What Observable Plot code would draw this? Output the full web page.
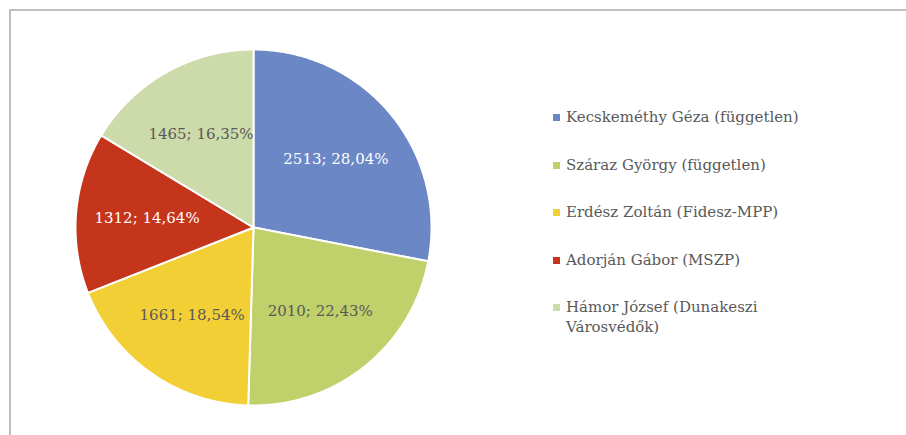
<!DOCTYPE html>
<html>
<head>
<meta charset="utf-8">
<script src="https://cdn.jsdelivr.net/npm/d3@7"></script>
<script src="https://cdn.jsdelivr.net/npm/@observablehq/plot@0.6"></script>
<style>
  html, body { margin: 0; padding: 0; background: #fff; }
  #wrap { position: relative; width: 906px; height: 435px; overflow: hidden; font-family: "DejaVu Serif", serif; }
  #border { position: absolute; left: 9px; top: 9px; width: 910px; height: 460px; border: 2px solid #bfbfbf; box-sizing: border-box; }
  #chart { position: absolute; left: 0; top: 0; }
  #legend { position: absolute; left: 553px; top: 107px; display: flex; flex-direction: column; gap: 27.5px; }
  .item { display: flex; align-items: flex-start; font-size: 15px; line-height: 20px; color: #595959; }
  .sw { width: 7px; height: 7px; margin-top: 7px; margin-right: 6px; flex: none; }
  .lbl { max-width: 245px; }
</style>
</head>
<body>
<div id="wrap">
  <div id="chart"></div>
  <div id="border"></div>
  <div id="legend"></div>
</div>
<script>
const candidates = [
  "Kecskeméthy Géza (független)",
  "Száraz György (független)",
  "Erdész Zoltán (Fidesz-MPP)",
  "Adorján Gábor (MSZP)",
  "Hámor József (Dunakeszi Városvédők)"
];
const votes = [2513, 2010, 1661, 1312, 1465];
const colors = ["#6c87c6", "#c0d06a", "#f2d035", "#c5351c", "#cddaa9"];

const total = d3.sum(votes);
const rows = candidates.map((name, i) => ({name, value: votes[i], color: colors[i]}));
const arcs = d3.pie().sort(null).value(d => d.value).startAngle(0).endAngle(2 * Math.PI)(rows);

// polygon outlines for slices in unit coordinates
const slicePts = [];
arcs.forEach(a => {
  const n = Math.max(2, Math.ceil((a.endAngle - a.startAngle) / 0.01));
  slicePts.push({name: a.data.name, x: 0, y: 0});
  for (let k = 0; k <= n; k++) {
    const t = a.startAngle + (a.endAngle - a.startAngle) * k / n;
    slicePts.push({name: a.data.name, x: Math.sin(t), y: Math.cos(t)});
  }
  slicePts.push({name: a.data.name, x: 0, y: 0});
});

const fmtPct = v => (v * 100).toFixed(2).replace(".", ",") + "%";
const labels = arcs.map(a => {
  const m = (a.startAngle + a.endAngle) / 2;
  const light = d3.lab(a.data.color).l;
  return {
    x: 0.6 * Math.sin(m),
    y: 0.6 * Math.cos(m),
    text: a.data.value + "; " + fmtPct(a.data.value / total),
    fill: light < 60 ? "#ffffff" : "#595959"
  };
});

const plot = Plot.plot({
  width: 906,
  height: 435,
  margin: 0,
  x: {domain: [-1, 1], range: [75, 431], axis: null},
  y: {domain: [-1, 1], range: [405, 49], axis: null},
  color: {domain: candidates, range: colors},
  style: {background: "transparent"},
  marks: [
    Plot.line(slicePts, {
      x: "x", y: "y", z: "name", fill: "name",
      stroke: "#ffffff", strokeWidth: 2, strokeLinejoin: "round", curve: "linear"
    }),
    Plot.text(labels, {
      x: "x", y: "y", text: "text", fill: d => d.fill,
      fontSize: 15, fontFamily: "DejaVu Serif", textAnchor: "middle", lineAnchor: "middle"
    })
  ]
});
document.getElementById("chart").appendChild(plot);

const legend = document.getElementById("legend");
rows.forEach(r => {
  const item = document.createElement("div");
  item.className = "item";
  const sw = document.createElement("span");
  sw.className = "sw";
  sw.style.background = r.color;
  const lbl = document.createElement("span");
  lbl.className = "lbl";
  lbl.textContent = r.name;
  item.appendChild(sw);
  item.appendChild(lbl);
  legend.appendChild(item);
});
</script>
</body>
</html>
